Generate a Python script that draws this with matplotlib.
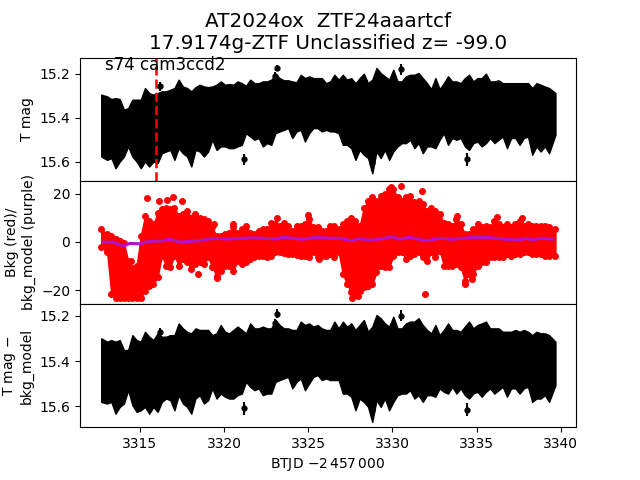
import matplotlib
matplotlib.use("Agg")
import matplotlib.pyplot as plt

# time columns (BTJD), each one has an upper and lower edge of the band
time = [
    3312.70, 3313.05, 3313.30, 3313.55, 3313.80, 3314.05, 3314.30, 3314.55, 3314.80, 3315.05,
    3315.30, 3315.55, 3315.80, 3316.05, 3316.30, 3316.55, 3316.80, 3317.05, 3317.30, 3317.55,
    3317.80, 3318.05, 3318.30, 3318.55, 3318.80, 3319.05, 3319.30, 3319.55, 3319.80, 3320.05,
    3320.30, 3320.55, 3320.80, 3321.05, 3321.30, 3321.55, 3321.80, 3322.05, 3322.30, 3322.55,
    3322.80, 3323.05, 3323.30, 3323.55, 3323.80, 3324.05, 3324.30, 3324.55, 3324.80, 3325.05,
    3325.30, 3325.55, 3325.80, 3326.05, 3326.30, 3326.55, 3326.80, 3327.05, 3327.30, 3327.55,
    3327.80, 3328.05, 3328.30, 3328.55, 3328.80, 3329.05, 3329.30, 3329.55, 3329.80, 3330.05,
    3330.30, 3330.55, 3330.80, 3331.05, 3331.30, 3331.55, 3331.80, 3332.05, 3332.30, 3332.55,
    3332.80, 3333.05, 3333.30, 3333.55, 3333.80, 3334.05, 3334.30, 3334.55, 3334.80, 3335.05,
    3335.30, 3335.55, 3335.80, 3336.05, 3336.30, 3336.55, 3336.80, 3337.05, 3337.30, 3337.55,
    3337.80, 3338.05, 3338.30, 3338.55, 3338.80, 3339.05, 3339.30, 3339.68,
]

mag_upper = [
    15.295, 15.303, 15.315, 15.311, 15.315, 15.364, 15.356, 15.318, 15.318, 15.318,
    15.265, 15.288, 15.295, 15.288, 15.280, 15.280, 15.273, 15.265, 15.227, 15.258,
    15.265, 15.280, 15.261, 15.250, 15.258, 15.261, 15.258, 15.250, 15.235, 15.250,
    15.247, 15.250, 15.235, 15.243, 15.255, 15.227, 15.243, 15.243, 15.235, 15.235,
    15.227, 15.205, 15.220, 15.230, 15.230, 15.235, 15.239, 15.205, 15.220, 15.212,
    15.220, 15.220, 15.220, 15.243, 15.235, 15.205, 15.227, 15.205, 15.227, 15.220,
    15.243, 15.220, 15.200, 15.243, 15.227, 15.174, 15.197, 15.212, 15.227, 15.182,
    15.235, 15.235, 15.212, 15.205, 15.205, 15.197, 15.220, 15.243, 15.270, 15.220,
    15.270, 15.243, 15.212, 15.235, 15.235, 15.243, 15.220, 15.205, 15.235, 15.220,
    15.220, 15.200, 15.235, 15.235, 15.230, 15.243, 15.243, 15.243, 15.243, 15.243,
    15.243, 15.243, 15.265, 15.243, 15.250, 15.258, 15.265, 15.288,
]
mag_lower = [
    15.576, 15.591, 15.583, 15.629, 15.599, 15.576, 15.530, 15.576, 15.599, 15.629,
    15.599, 15.621, 15.599, 15.606, 15.561, 15.553, 15.546, 15.591, 15.538, 15.561,
    15.576, 15.621, 15.546, 15.553, 15.576, 15.553, 15.500, 15.546, 15.530, 15.530,
    15.538, 15.538, 15.530, 15.523, 15.470, 15.485, 15.500, 15.492, 15.530, 15.515,
    15.523, 15.470, 15.462, 15.455, 15.447, 15.492, 15.462, 15.455, 15.508, 15.470,
    15.447, 15.447, 15.462, 15.455, 15.462, 15.462, 15.470, 15.523, 15.523, 15.538,
    15.591, 15.546, 15.568, 15.583, 15.652, 15.553, 15.583, 15.546, 15.591, 15.553,
    15.530, 15.515, 15.515, 15.500, 15.538, 15.515, 15.561, 15.530, 15.530, 15.538,
    15.500, 15.470, 15.523, 15.492, 15.500, 15.492, 15.530, 15.546, 15.515, 15.508,
    15.530, 15.515, 15.492, 15.515, 15.500, 15.485, 15.538, 15.492, 15.492, 15.523,
    15.492, 15.485, 15.568, 15.530, 15.553, 15.530, 15.561, 15.477,
]

bkg_upper = [
    5.3, 3.2, 2.5, 1.1, 0.4, -0.3, -7.9, -10.7, -10.0, 2.5,
    10.8, 8.7, 7.4, 12.2, 13.6, 14.3, 13.6, 14.3, 10.8, 11.5,
    12.9, 10.1, 11.5, 10.1, 9.4, 8.7, 6.0, 2.5, 2.5, 3.2,
    3.9, 6.0, 3.9, 5.3, 6.7, 3.9, 3.2, 4.6, 5.3, 5.3,
    8.0, 7.4, 6.7, 8.0, 6.7, 4.6, 6.7, 6.7, 7.4, 9.4,
    6.0, 6.0, 4.6, 4.6, 6.7, 6.7, 5.3, 7.4, 8.7, 10.1,
    8.7, 6.7, 14.3, 17.1, 18.5, 17.1, 19.2, 19.9, 21.9, 21.9,
    18.5, 17.1, 18.5, 19.2, 16.4, 17.1, 15.7, 12.9, 14.3, 12.9,
    11.5, 8.0, 7.4, 6.7, 9.4, 7.4, 3.2, 3.2, 5.3, 7.4,
    6.0, 6.7, 6.0, 8.7, 7.4, 6.0, 7.4, 6.0, 7.4, 8.7,
    6.7, 7.4, 6.7, 6.7, 6.7, 6.7, 6.0, 5.3,
]
bkg_lower = [
    -2.2, -4.3, -21.7, -23.1, -23.1, -23.1, -23.1, -23.1, -23.1, -23.1,
    -20.3, -18.2, -17.5, -14.7, -5.7, -9.9, -10.3, -5.7, -9.9, -7.1,
    -8.5, -11.3, -9.2, -8.5, -9.2, -6.4, -10.6, -14.0, -12.0, -9.9,
    -9.9, -12.0, -7.8, -9.2, -8.5, -7.1, -6.4, -5.7, -5.7, -6.4,
    -5.7, -4.3, -4.3, -4.7, -5.0, -5.0, -5.3, -5.7, -5.7, -6.1,
    -4.3, -6.4, -5.7, -5.7, -5.0, -6.4, -4.3, -13.3, -17.5, -21.0,
    -21.7, -20.3, -18.9, -18.2, -17.5, -12.7, -9.9, -10.6, -10.6, -5.7,
    -4.3, -4.3, -7.1, -5.7, -5.0, -4.3, -6.4, -7.8, -4.3, -6.4,
    -3.6, -9.9, -9.9, -9.9, -9.2, -10.6, -16.1, -13.3, -13.3, -9.9,
    -8.5, -8.5, -6.4, -6.4, -6.4, -6.4, -5.0, -5.7, -5.0, -5.0,
    -4.3, -4.3, -5.0, -5.0, -5.0, -5.7, -5.7, -5.7,
]

corr_upper = [
    15.299, 15.314, 15.307, 15.314, 15.307, 15.351, 15.351, 15.285, 15.307, 15.314,
    15.270, 15.292, 15.307, 15.277, 15.292, 15.292, 15.285, 15.285, 15.233, 15.255,
    15.270, 15.277, 15.255, 15.262, 15.262, 15.262, 15.285, 15.277, 15.240, 15.270,
    15.277, 15.262, 15.247, 15.262, 15.277, 15.233, 15.255, 15.255, 15.247, 15.255,
    15.255, 15.218, 15.240, 15.255, 15.255, 15.262, 15.262, 15.225, 15.240, 15.233,
    15.247, 15.240, 15.255, 15.262, 15.262, 15.225, 15.255, 15.225, 15.247, 15.233,
    15.262, 15.240, 15.218, 15.270, 15.247, 15.196, 15.210, 15.233, 15.247, 15.203,
    15.255, 15.255, 15.233, 15.225, 15.225, 15.210, 15.240, 15.262, 15.277, 15.240,
    15.285, 15.262, 15.233, 15.262, 15.262, 15.270, 15.247, 15.225, 15.255, 15.240,
    15.233, 15.225, 15.255, 15.255, 15.255, 15.270, 15.270, 15.270, 15.262, 15.270,
    15.262, 15.270, 15.285, 15.270, 15.277, 15.277, 15.285, 15.314,
]
corr_lower = [
    15.581, 15.588, 15.581, 15.633, 15.603, 15.588, 15.529, 15.595, 15.625, 15.618,
    15.603, 15.633, 15.603, 15.625, 15.581, 15.566, 15.573, 15.618, 15.551, 15.588,
    15.603, 15.633, 15.566, 15.551, 15.588, 15.573, 15.521, 15.566, 15.544, 15.558,
    15.566, 15.566, 15.551, 15.544, 15.492, 15.514, 15.529, 15.521, 15.551, 15.544,
    15.544, 15.492, 15.484, 15.477, 15.470, 15.521, 15.492, 15.477, 15.529, 15.499,
    15.470, 15.462, 15.484, 15.477, 15.484, 15.484, 15.484, 15.544, 15.544, 15.558,
    15.618, 15.566, 15.581, 15.603, 15.670, 15.573, 15.603, 15.566, 15.618, 15.581,
    15.551, 15.544, 15.544, 15.529, 15.566, 15.551, 15.581, 15.551, 15.551, 15.558,
    15.521, 15.536, 15.544, 15.514, 15.544, 15.521, 15.551, 15.566, 15.544, 15.536,
    15.558, 15.536, 15.521, 15.544, 15.529, 15.514, 15.558, 15.521, 15.521, 15.544,
    15.521, 15.514, 15.581, 15.566, 15.566, 15.551, 15.581, 15.507,
]

# isolated points sticking out of the bands
mag_out_t = [3323.15, 3323.05, 3321.18, 3334.43, 3328.80, 3316.19, 3330.52]
mag_out_y = [15.174, 15.209, 15.588, 15.588, 15.606, 15.258, 15.179]
mag_out_e = [0.015, 0.015, 0.025, 0.030, 0.035, 0.020, 0.025]

corr_out_t = [3323.15, 3323.05, 3321.18, 3316.19, 3330.52, 3334.43, 3328.80]
corr_out_y = [15.191, 15.230, 15.610, 15.273, 15.199, 15.615, 15.615]
corr_out_e = [0.020, 0.015, 0.030, 0.020, 0.025, 0.030, 0.040]

bkg_out_t = [3315.43, 3316.15, 3316.62, 3316.98, 3317.51, 3318.46, 3314.48, 3319.39, 3320.54,
             3324.96, 3323.15, 3325.61, 3319.59, 3330.52, 3329.94, 3331.94, 3327.57, 3327.96,
             3331.76, 3334.32, 3334.73, 3333.84, 3336.18, 3337.70]
bkg_out_y = [18.2, 16.8, 17.5, 18.6, 16.8, -13.5, -7.9, 7.4, 7.4,
             11.0, 9.9, -7.2, -14.9, 23.3, 23.0, -21.8, -23.1, -22.5,
             21.2, -17.6, -15.6, 10.8, 10.3, 9.9]

model_t = [3312.82, 3313.42, 3314.01, 3314.41, 3315.00, 3315.40, 3316.19, 3316.78, 3317.38,
           3318.37, 3319.35, 3320.35, 3321.73, 3323.12, 3323.51, 3324.70, 3325.49, 3326.28,
           3326.88, 3327.57, 3328.06, 3328.66, 3329.45, 3329.94, 3330.44, 3331.03, 3332.02,
           3332.81, 3333.60, 3334.79, 3335.78, 3336.57, 3337.56, 3337.96, 3338.35, 3338.85,
           3339.54]
model_y = [-0.1, -0.1, -1.7, -0.6, -0.8, 0.1, 0.4, 1.1, -0.1,
           0.4, 1.4, 1.2, 1.7, 1.2, 1.9, 1.1, 1.9, 1.5,
           1.5, 0.5, 1.4, 0.7, 1.4, 2.2, 1.1, 1.9, 0.5,
           1.5, 1.1, 1.9, 1.8, 1.2, 0.8, 1.5, 0.8, 1.5,
           1.1]

sector_line = 3315.95

fig, axes = plt.subplots(3, 1, sharex=True)
fig.subplots_adjust(hspace=0)
ax1, ax2, ax3 = axes

# top: raw magnitude
ax1.fill_between(time, mag_upper, mag_lower, color="k", lw=1)
ax1.errorbar(mag_out_t, mag_out_y, yerr=mag_out_e, fmt="o", color="k", ms=3.5, lw=1.5)
ax1.axvline(sector_line, color="r", ls="--", lw=1.8)
ax1.text(3312.9, 15.185, "s74 cam3ccd2", fontsize=12)
ax1.set_ylim(15.686, 15.127)
ax1.set_yticks([15.2, 15.4, 15.6])
ax1.set_ylabel("T mag")
ax1.set_title("AT2024ox  ZTF24aaartcf\n17.9174g-ZTF Unclassified z= -99.0", fontsize=14.4)

# middle: background flux and the model
ax2.fill_between(time, bkg_upper, bkg_lower, color="r", lw=1)
ax2.plot(time, bkg_upper, "o", color="r", ms=4)
ax2.plot(time, bkg_lower, "o", color="r", ms=4)
ax2.plot(bkg_out_t, bkg_out_y, "o", color="r", ms=4)
ax2.plot(model_t, model_y, color="#b012c4", lw=2.2)
ax2.set_ylim(-25.8, 25.4)
ax2.set_yticks([-20, 0, 20])
ax2.set_ylabel("Bkg (red)/\nbkg_model (purple)")

# bottom: magnitude minus background model
ax3.fill_between(time, corr_upper, corr_lower, color="k", lw=1)
ax3.errorbar(corr_out_t, corr_out_y, yerr=corr_out_e, fmt="o", color="k", ms=3.5, lw=1.5)
ax3.set_ylim(15.693, 15.147)
ax3.set_yticks([15.2, 15.4, 15.6])
ax3.set_ylabel("T mag $-$\nbkg_model")
ax3.set_xlabel("BTJD $-2\\,457\\,000$")

ax3.set_xlim(3311.44, 3340.9)
ax3.set_xticks([3315, 3320, 3325, 3330, 3335, 3340])
ax1.tick_params(bottom=False)
ax2.tick_params(bottom=False)

fig.savefig("out.png", dpi=100)
